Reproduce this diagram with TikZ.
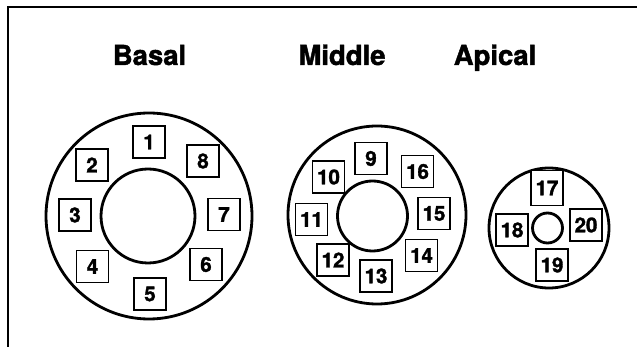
\documentclass[tikz,border=0pt]{standalone}
\usepackage{fontspec}
\setmainfont{TeX Gyre Heros}[BoldFeatures={FakeBold=1.6}]
\begin{document}
\begin{tikzpicture}[x=1pt,y=-1pt,
  seg/.style={draw,fill=white,line width=1.8pt,minimum size=32pt,inner sep=0pt,font=\fontsize{20.5}{21}\selectfont\bfseries},
  ring/.style={draw,line width=2.8pt},
  ttl/.style={anchor=base,inner sep=0pt,font=\fontsize{27.5}{28}\selectfont\bfseries}]
\useasboundingbox (0,0) rectangle (637,347);
% frame
\draw[line width=1.6pt] (8,347) -- (8,7) -- (637,7);
% titles
\node[ttl] (tb) at (149.5,65) {Basal};
\node[ttl] (tm) at (342,65) {Middle};
\node[ttl] (ta) at (495,65) {Apical};
% Basal
\draw[ring] (149,216) circle[radius=103];
\draw[ring] (148,216) circle[radius=47];
\node[seg] (b1) at (149,142) {1};
\node[seg] (b2) at (92,165) {2};
\node[seg] (b3) at (75,215) {3};
\node[seg] (b4) at (92.5,266.5) {4};
\node[seg] (b5) at (150,294) {5};
\node[seg] (b6) at (206,264.5) {6};
\node[seg] (b7) at (224,214.5) {7};
\node[seg] (b8) at (203,161) {8};
% Middle
\draw[ring] (377,215) circle[radius=89];
\draw[ring] (372.5,216) circle[radius=35];
\node[seg] (m9) at (371,158.5) {9};
\node[seg] (m10) at (328.5,177) {10};
\node[seg] (m11) at (311.5,219.5) {11};
\node[seg] (m12) at (333,260) {12};
\node[seg] (m13) at (376,276) {13};
\node[seg] (m14) at (421.5,255.5) {14};
\node[seg] (m15) at (434,213.5) {15};
\node[seg] (m16) at (417.5,171.5) {16};
% Apical
\draw[ring] (549,228) circle[radius=60];
\draw[ring] (547.5,228) circle[radius=15];
\node[seg,minimum height=35pt] (a17) at (547,188) {17};
\node[seg] (a18) at (512,230) {18};
\node[seg] (a19) at (552,265) {19};
\node[seg] (a20) at (586,225) {20};
\end{tikzpicture}
\end{document}
